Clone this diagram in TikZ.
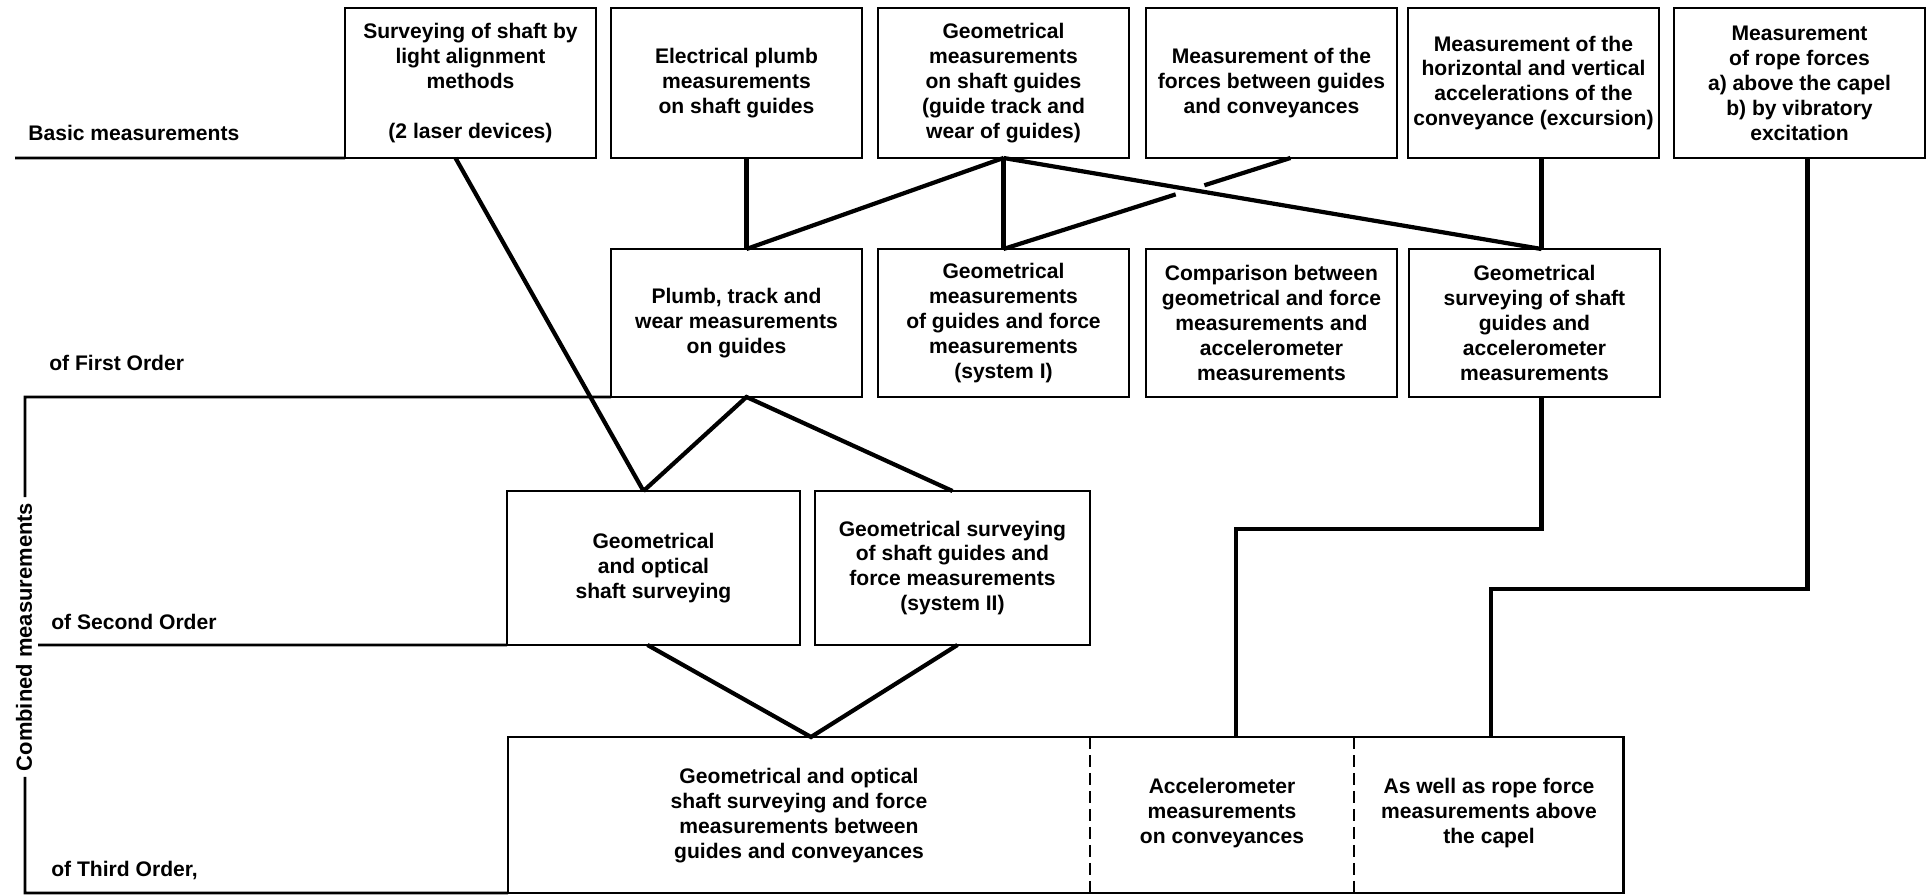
\documentclass[tikz,border=0pt]{standalone}
\usepackage{fontspec}
\setmainfont{Liberation Sans}
\usetikzlibrary{positioning,calc}

\begin{document}
\begin{tikzpicture}[
		x=0.02cm,y=-0.02cm, % 1 unit = 1 px, y downwards
		box/.style={draw, line width=1.5pt, align=center, inner sep=0pt, outer sep=0pt, anchor=north west,
			minimum width=5.02cm, minimum height=3cm,
			font=\bfseries\fontsize{12}{14.2}\selectfont},
		cell/.style={align=center, inner sep=0pt, font=\bfseries\fontsize{12}{14.2}\selectfont},
		level/.style={anchor=west, inner sep=0pt, font=\bfseries\fontsize{12}{14.2}\selectfont},
		rule/.style={line width=1.5pt},
		link/.style={line width=2.4pt},
		divider/.style={line width=1.2pt, dash pattern=on 0.24cm off 0.12cm}
		]
		\useasboundingbox (0,0) rectangle (1928,895);
		
		% ====== BASIC MEASUREMENTS ======
		\node[box] (b1) at (345,8)
		{Surveying of shaft by\\ light alignment\\ methods\\ \mbox{}\\ (2 laser devices)};
		\node[box] (elec) at (611,8)
		{Electrical plumb\\ measurements\\ on shaft guides};
		\node[box] (gmeas) at (878,8)
		{Geometrical\\ measurements\\ on shaft guides\\ (guide track and\\ wear of guides)};
		\node[box] (forces) at (1146,8)
		{Measurement of the\\ forces between guides\\ and conveyances};
		\node[box] (accel) at (1408,8)
		{Measurement of the\\ horizontal and vertical\\ accelerations of the\\ conveyance (excursion)};
		\node[box] (rope) at (1674,8)
		{Measurement\\ of rope forces\\ a) above the capel\\ b) by vibratory\\ excitation};
		
		% ====== FIRST ORDER ======
		\node[box, minimum height=2.96cm] (plumb) at (611,249)
		{Plumb, track and\\ wear measurements\\ on guides};
		\node[box, minimum height=2.96cm] (gguide) at (878,249)
		{Geometrical\\ measurements\\ of guides and force\\ measurements\\ (system I)};
		\node[box, minimum height=2.96cm] (compar) at (1146,249)
		{Comparison between\\ geometrical and force\\ measurements and\\ accelerometer\\ measurements};
		\node[box, minimum height=2.96cm] (gsurv) at (1409,249)
		{Geometrical\\ surveying of shaft\\ guides and\\ accelerometer\\ measurements};
		
		% ====== SECOND ORDER ======
		\node[box, minimum width=5.86cm, minimum height=3.08cm] (gopt) at (507,491)
		{Geometrical\\ and optical\\ shaft surveying};
		\node[box, minimum width=5.5cm, minimum height=3.08cm] (sys2) at (815,491)
		{Geometrical surveying\\ of shaft guides and\\ force measurements\\ (system II)};
		
		% ====== THIRD ORDER (one box, three parts) ======
		\node[box, minimum width=22.32cm, minimum height=3.12cm] (third) at (508,737) {};
		\draw[divider] (1090,737) -- (1090,893);
		\draw[divider] (1354,737) -- (1354,893);
		\node[cell] (t1) at (799,816)
		{Geometrical and optical\\ shaft surveying and force\\ measurements between\\ guides and conveyances};
		\node[cell] (t2) at (1222,813)
		{Accelerometer\\ measurements\\ on conveyances};
		\node[cell] (t3) at (1489,813)
		{As well as rope force\\ measurements above\\ the capel};
		
		% ====== LEVEL LABELS AND RULES ======
		\node[level] (basic) at (28,133) {Basic measurements};
		\node[level] (first) at (49,363) {of First Order};
		\node[level] (second) at (51,622) {of Second Order};
		\node[level] (thirdlbl) at (51,870) {of Third Order,};
		\node[rotate=90, inner sep=3pt, font=\bfseries\fontsize{12.5}{14}\selectfont] (comb) at (24,637)
		{Combined measurements};
		
		\draw[rule] (15,158) -- (b1.south west);
		\draw[rule] (comb.east -| 25,0) -- (25,397) -- (plumb.south west);
		\draw[rule] (38,645) -- (gopt.south west);
		\draw[rule] (comb.west -| 25,0) -- (25,893) -- (third.south west);
		
		% ====== CONNECTIONS ======
		\coordinate (pj) at ($(plumb.north)+(10,0)$);
		\coordinate (pb) at (plumb.south -| pj);
		\coordinate (sj) at ($(gsurv.north)+(7,0)$);
		\coordinate (fj) at ($(forces.south)+(19,0)$);
		\coordinate (rj) at ($(rope.south)+(8,0)$);
		\coordinate (oj) at ($(gopt.north)+(-10,0)$);
		\coordinate (tj) at ($(third.north west)+(303,0)$);
		\coordinate (aj) at ($(third.north west)+(728,0)$);
		\coordinate (bj) at ($(third.north west)+(983,0)$);
		
		\draw[link] (elec.south -| pj) -- (pj);
		\draw[link] (gmeas.south) -- (pj);
		\draw[link] (gmeas.south) -- (gguide.north);
		\draw[link] (gmeas.south) -- (sj);
		\draw[link] (accel.south -| sj) -- (sj);
		% forces line broken where it passes the long one
		\draw[link] (fj) -- ($(fj)!0.30!(gguide.north)$);
		\draw[link] ($(fj)!0.40!(gguide.north)$) -- (gguide.north);
		
		\draw[link] ($(b1.south)+(-15,0)$) -- (oj);
		\draw[link] (oj) -- (pb) -- (sys2.north);
		\draw[link] ($(gopt.south)+(-6,0)$) -- (tj) -- ($(sys2.south)+(5,0)$);
		
		\draw[link] (gsurv.south -| sj) -- ++(0,132) -| (aj);
		\draw[link] (rj) -- ++(0,431) -| (bj);
		
\end{tikzpicture}
\end{document}
